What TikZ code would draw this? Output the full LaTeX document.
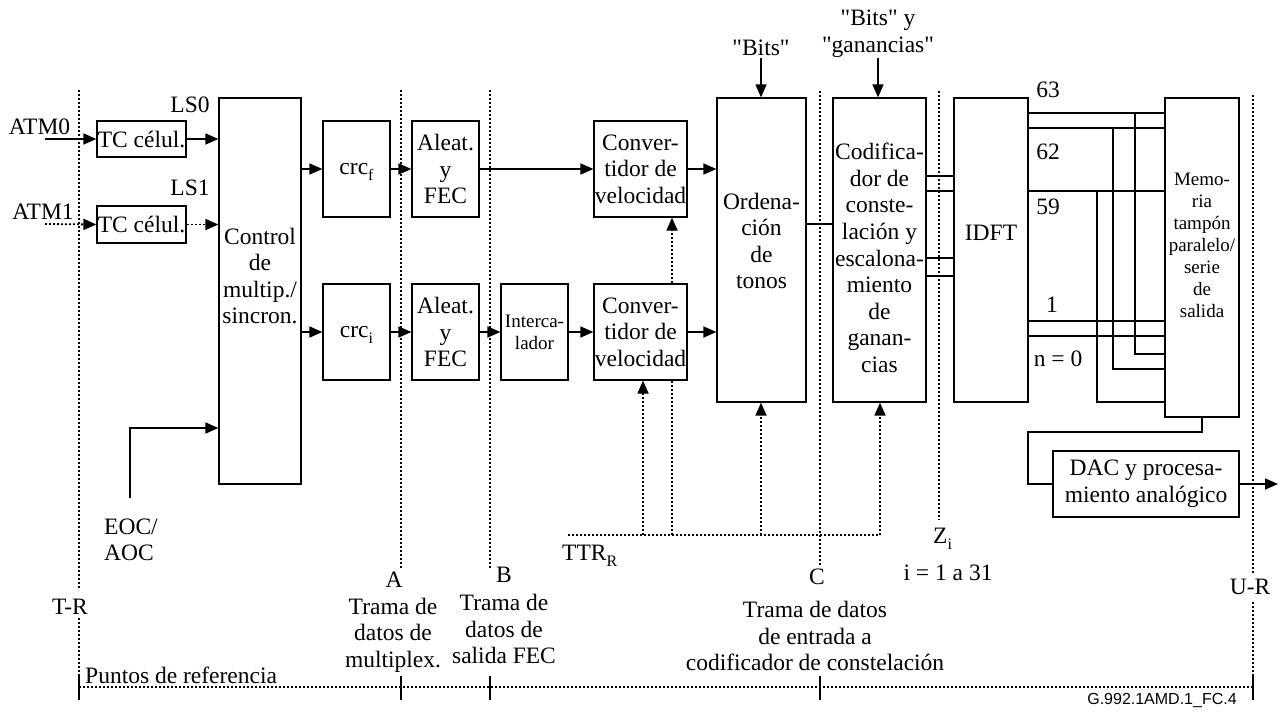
\documentclass[tikz,border=0pt]{standalone}
\usepackage{fontspec}
\setmainfont{Liberation Serif}
\newfontfamily\sansf{Liberation Sans}
\usetikzlibrary{arrows.meta}
\newcommand\fm{\fontsize{23.5}{26.6}\selectfont}
\newcommand\fsm{\fontsize{19}{22}\selectfont}
\newcommand\qq{\textquotedbl}
\newcommand\lowsub[1]{\raisebox{-6pt}{\fontsize{16}{16}\selectfont #1}}
\begin{document}
\begin{tikzpicture}[x=1pt,y=-1pt,
  blk/.style={draw, line width=1.2pt, inner sep=0pt, align=center, font=\fm},
  txt/.style={inner sep=0pt, align=center, font=\fm},
  arr/.style={line width=1.6pt, -{Triangle[length=13pt,width=11pt]}},
  dotl/.style={line width=1.8pt, dash pattern=on 2pt off 2pt},
  darr/.style={dotl, -{Triangle[length=13pt,width=11pt]}},
  bus/.style={line width=2pt},
  thinl/.style={line width=1.2pt},
  tick/.style={line width=1.6pt}]
\useasboundingbox (0,0) rectangle (1281,713);

% ---- reference lines
\draw[dotl] (79,90) -- (79,590);
\draw[dotl] (79,618) -- (79,687);
\draw[dotl] (401,90) -- (401,568);
\draw[dotl] (490,90) -- (490,568);
\draw[dotl] (820,91) -- (820,565);
\draw[dotl] (939,91) -- (939,520);
\draw[dotl] (1253,95) -- (1253,573);
\draw[dotl] (1253,602) -- (1253,687);
\draw[dotl] (79,687) -- (1253,687);
\foreach \xx in {79,401,490,820,1253} \draw[tick] (\xx,676) -- (\xx,700);

% ---- blocks
\node[blk, minimum width=89pt, minimum height=36pt] (tc0) at (141.5,139) {TC célul.};
\node[blk, minimum width=89pt, minimum height=37pt] (tc1) at (141.5,224.5) {TC célul.};
\node[blk, minimum width=82pt, minimum height=386pt] (ctrl) at (260,291) {};
\node[txt] (ctrlt) at (260,276) {Control\\de\\multip./\\sincron.};
\node[blk, minimum width=67pt, minimum height=96pt] (crcf) at (356.5,169) {};
\node[txt, anchor=base] (crcft) at (356.5,174) {crc\lowsub{f}};
\node[blk, minimum width=67pt, minimum height=96pt] (crci) at (356.5,332) {};
\node[txt, anchor=base] (crcit) at (356.5,337) {crc\lowsub{i}};
\node[blk, minimum width=67pt, minimum height=96pt] (al1) at (445.5,169) {Aleat.\\y\\FEC};
\node[blk, minimum width=67pt, minimum height=96pt] (al2) at (445.5,332) {Aleat.\\y\\FEC};
\node[blk, minimum width=67pt, minimum height=96pt, font=\fsm] (inter) at (534.5,332) {Interca-\\lador};
\node[blk, minimum width=93pt, minimum height=96pt] (cv1) at (640.5,169) {Conver-\\tidor de\\velocidad};
\node[blk, minimum width=93pt, minimum height=96pt] (cv2) at (640.5,332) {Conver-\\tidor de\\velocidad};
\node[blk, minimum width=89pt, minimum height=304pt] (ord) at (761.5,250) {};
\node[txt] (ordt) at (761.5,241) {Ordena-\\ción\\de\\tonos};
\node[blk, minimum width=93pt, minimum height=304pt] (cod) at (879.5,250) {};
\node[txt] (codt) at (879.5,258) {Codifica-\\dor de\\conste-\\lación y\\escalona-\\miento\\de\\ganan-\\cias};
\node[blk, minimum width=74pt, minimum height=304pt] (idft) at (991,250) {};
\node[txt] (idftt) at (991,233) {IDFT};
\node[blk, minimum width=74pt, minimum height=319pt] (mem) at (1202,257.5) {};
\node[txt, font=\fsm] (memt) at (1202,245) {Memo-\\ria\\tampón\\paralelo/\\serie\\de\\salida};
\node[blk, minimum width=186pt, minimum height=66pt] (dac) at (1146,484) {DAC y procesa-\\miento analógico};

% ---- labels
\node[txt] (atm0) at (39.5,127) {ATM0};
\node[txt] (atm1) at (43,212) {ATM1};
\node[txt] (ls0) at (190,105) {LS0};
\node[txt] (ls1) at (190,188) {LS1};
\node[txt, align=left] (eoc) at (131,540) {EOC/\\AOC};
\node[txt] (bits) at (761,48) {\qq Bits\qq};
\node[txt] (bitsg) at (878,34) {\qq Bits\qq\ y\\\qq ganancias\qq};
\node[txt] (n63) at (1048,90) {63};
\node[txt] (n62) at (1048,152) {62};
\node[txt] (n59) at (1048,207) {59};
\node[txt] (n1) at (1052,305) {1};
\node[txt] (n0) at (1058,359) {n = 0};
\node[txt, anchor=base west] (ttr) at (562,560) {TTR\lowsub{R}};
\node[txt, anchor=base west] (zi) at (933,543) {Z\lowsub{i}};
\node[txt] (zirange) at (948,573) {i = 1 a 31};
\node[txt] (la) at (394,580) {A};
\node[txt] (lat) at (393,635) {Trama de\\datos de\\multiplex.};
\node[txt] (lb) at (504,575) {B};
\node[txt] (lbt) at (504,629) {Trama de\\datos de\\salida FEC};
\node[txt] (lc) at (817,577) {C};
\node[txt] (lct) at (815,636) {Trama de datos\\de entrada a\\codificador de constelación};
\node[txt] (ltr) at (70,607) {T-R};
\node[txt] (lur) at (1250,587) {U-R};
\node[txt, anchor=west] (pref) at (85,675) {Puntos de referencia};
\node[inner sep=0pt, font=\sansf\fontsize{16}{18}\selectfont] (fig) at (1162,700) {G.992.1AMD.1\_FC.4};

% ---- helper coordinates
\coordinate (atm0s) at (45,139);
\coordinate (atm1s) at (45,224);
\coordinate (eocs) at (130,498);
\coordinate (ttrL) at (568,535);
\coordinate (ttrR) at (880,535);
\coordinate (outR) at (1278,484);

% ---- connectors
\draw[arr] (atm0s) -- (tc0.west);
\draw[darr] (atm1s) -- (tc1.west);
\draw[arr] (tc0.east) -- (ctrl.west |- tc0.east);
\draw[darr] (tc1.east) -- (ctrl.west |- tc1.east);
\draw[arr] (eocs) |- (ctrl.west |- 0,428);
\draw[arr] (ctrl.east |- crcf.west) -- (crcf.west);
\draw[arr] (ctrl.east |- crci.west) -- (crci.west);
\draw[arr] (crcf) -- (al1);
\draw[arr] (crci) -- (al2);
\draw[arr] (al1) -- (cv1);
\draw[arr] (al2) -- (inter);
\draw[arr] (inter) -- (cv2);
\draw[arr] (cv1.east) -- (ord.west |- cv1.east);
\draw[arr] (cv2.east) -- (ord.west |- cv2.east);
\draw[darr] (cv2.north -| 672,0) -- (cv1.south -| 672,0);
\draw[dotl] (cv2.south -| 672,0) -- (ttrL -| 672,0);
\draw[dotl] (ttrL) -- (ttrR);
\draw[darr] (ttrL -| 643,0) -- (cv2.south -| 643,0);
\draw[darr] (ttrL -| 761,0) -- (ord.south -| 761,0);
\draw[darr] (ttrR) -- (cod.south -| ttrR);
\draw[arr] (761,58) -- (ord.north -| 761,0);
\draw[arr] (878,58) -- (cod.north -| 878,0);
\draw[bus] (ord.east |- 0,224) -- (cod.west |- 0,224);
\foreach \yy in {176,191,258,276} \draw[bus] (cod.east |- 0,\yy) -- (idft.west |- 0,\yy);
\foreach \yy in {113,128,191,321,336} \draw[bus] (idft.east |- 0,\yy) -- (mem.west |- 0,\yy);
\draw[thinl] (1135,113) |- (mem.west |- 0,354);
\draw[thinl] (1113,128) |- (mem.west |- 0,369);
\draw[thinl] (1097,191) |- (mem.west |- 0,402);
\draw[thinl] (mem.south) |- (1028,432) |- (dac.west);
\draw[arr] (dac.east) -- (outR);
\end{tikzpicture}
\end{document}
